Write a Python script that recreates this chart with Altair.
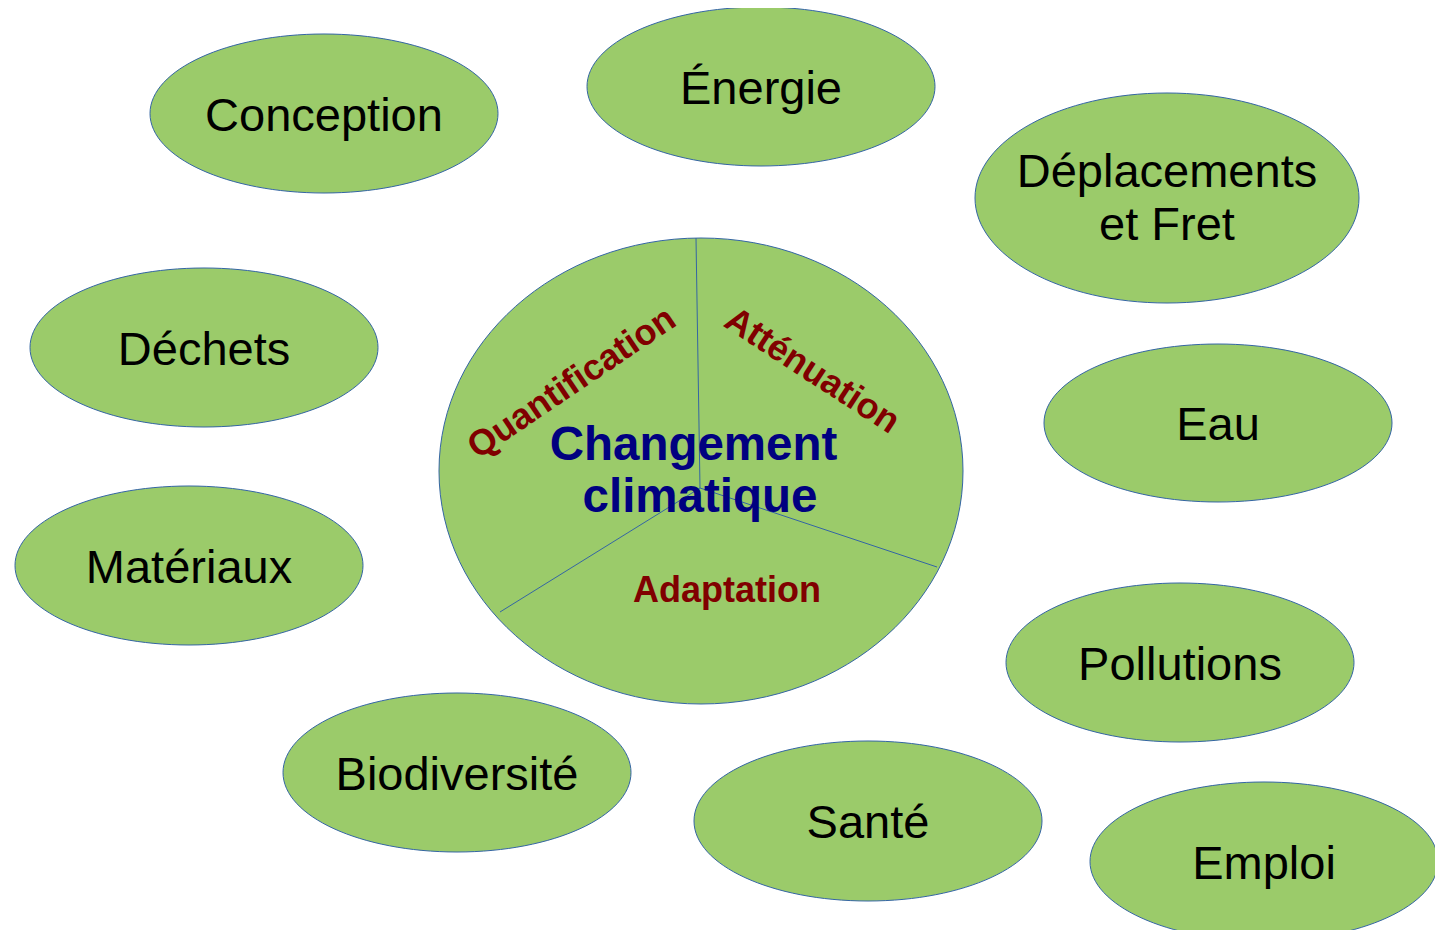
import altair as alt
import pandas as pd

# ---------------- data ----------------
topics = ["Conception", "Énergie", "Déplacements\net Fret", "Déchets", "Eau",
          "Matériaux", "Pollutions", "Biodiversité", "Santé", "Emploi"]
topic_cx = [324, 761, 1167, 204, 1218, 189, 1180, 457, 868, 1264]
topic_cy = [113.5, 86.5, 198, 347.5, 423, 565.5, 662.5, 772.5, 821, 861.5]
topic_rx = [174, 174, 192, 174, 174, 174, 174, 174, 174, 174]
topic_ry = [79.5, 79.5, 105, 79.5, 79, 79.5, 79.5, 79.5, 80, 79.5]

center_title = ["Changement", "climatique"]
pillars = ["Quantification", "Atténuation", "Adaptation"]

# ---------------- layout (pixel positions of the diagram) ----------------
disc = dict(cx=701, cy=471, rx=262, ry=233)
hub = (700, 488)
spoke_x = [696, 937, 500]
spoke_y = [238, 567, 612]
title_x = [693.5, 700]
title_y = [460, 512]
pillar_x = [578, 806, 727]
pillar_y = [392, 380, 602]
pillar_angle = [326, 33, 0]
LINE_H = 53

FILL = "#9bcb6a"
STROKE = "#3465a4"
FONT = "Liberation Sans"

W, H = 1427, 922
xs = alt.Scale(domain=[8, 8 + W], range=[0, W], nice=False, zero=False)
ys = alt.Scale(domain=[8, 8 + H], range=[0, H], nice=False, zero=False)


def ellipse_path(rx, ry):
    k = ry / rx
    return f"M-1,0A1,{k:.4f},0,1,1,1,0A1,{k:.4f},0,1,1,-1,0Z"


shapes = pd.DataFrame({
    "name": ["disc"] + topics,
    "cx": [disc["cx"]] + topic_cx,
    "cy": [disc["cy"]] + topic_cy,
    "path": [ellipse_path(disc["rx"], disc["ry"])] + [ellipse_path(a, b) for a, b in zip(topic_rx, topic_ry)],
    "size": [(2 * disc["rx"]) ** 2] + [(2 * a) ** 2 for a in topic_rx],
})

ellipses = alt.Chart(shapes).mark_point(
    filled=True, fill=FILL, stroke=STROKE, strokeWidth=1, opacity=1, fillOpacity=1, strokeOpacity=1
).encode(
    x=alt.X("cx:Q", scale=xs, axis=None),
    y=alt.Y("cy:Q", scale=ys, axis=None),
    shape=alt.Shape("path:N", scale=None, legend=None),
    size=alt.Size("size:Q", scale=None, legend=None),
)

spokes_df = pd.DataFrame({"x": [hub[0]] * 3, "y": [hub[1]] * 3, "x2": spoke_x, "y2": spoke_y})
spokes = alt.Chart(spokes_df).mark_rule(color=STROKE, strokeWidth=1).encode(
    x=alt.X("x:Q", scale=xs, axis=None),
    y=alt.Y("y:Q", scale=ys, axis=None),
    x2="x2:Q",
    y2="y2:Q",
)

# first-line position of each label: multi-line labels are shifted up by half the extra lines
n_lines = [t.count("\n") + 1 for t in topics]
label_y = [cy - (n - 1) * (LINE_H / 2 + 1.5) for cy, n in zip(topic_cy, n_lines)]
labels_df = pd.DataFrame({"label": topics, "x": topic_cx, "y": label_y})
labels = alt.Chart(labels_df).mark_text(
    font=FONT, fontSize=47, color="#000000", align="center", baseline="middle",
    dy=3, lineBreak="\n", lineHeight=LINE_H
).encode(
    x=alt.X("x:Q", scale=xs, axis=None),
    y=alt.Y("y:Q", scale=ys, axis=None),
    text="label:N",
)

title_df = pd.DataFrame({"t": center_title, "x": title_x, "y": title_y})
title = alt.Chart(title_df).mark_text(
    font=FONT, fontSize=47.5, fontWeight="bold", color="#000080", align="center", baseline="alphabetic"
).encode(
    x=alt.X("x:Q", scale=xs, axis=None),
    y=alt.Y("y:Q", scale=ys, axis=None),
    text="t:N",
)

pillar_df = pd.DataFrame({"t": pillars, "x": pillar_x, "y": pillar_y, "a": pillar_angle})
pillar_text = alt.Chart(pillar_df).mark_text(
    font=FONT, fontSize=36, fontWeight="bold", color="#800000", align="center", baseline="alphabetic"
).encode(
    x=alt.X("x:Q", scale=xs, axis=None),
    y=alt.Y("y:Q", scale=ys, axis=None),
    text="t:N",
    angle=alt.Angle("a:Q", scale=None),
)

chart = alt.layer(ellipses, spokes, labels, title, pillar_text).properties(
    width=W, height=H, padding=0, background="#ffffff",
    autosize=alt.AutoSizeParams(type="none"),
).configure_view(strokeWidth=0)

chart.save("out.html", embed_options={"renderer": "svg", "actions": False})
